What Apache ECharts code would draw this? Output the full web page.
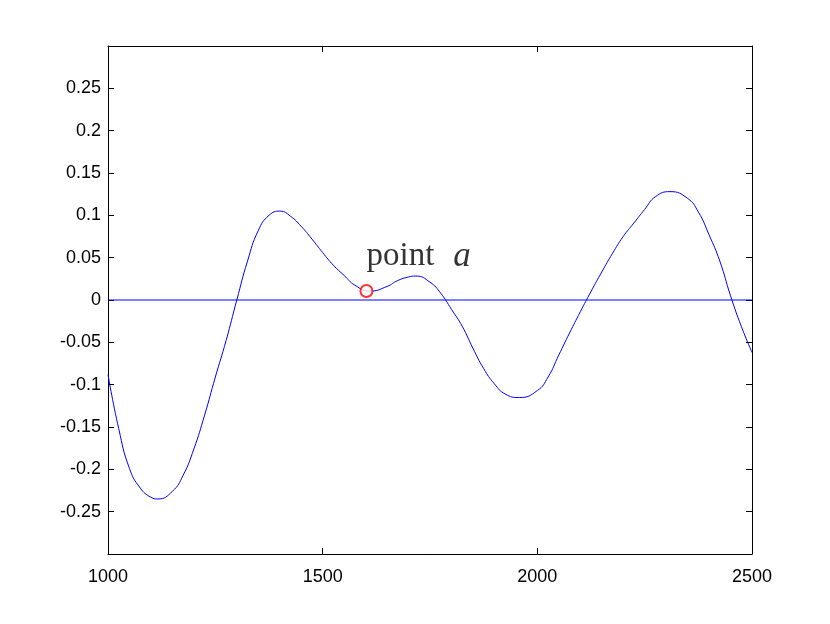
<!DOCTYPE html>
<html>
<head>
<meta charset="utf-8">
<script src="https://cdn.jsdelivr.net/npm/echarts@6/dist/echarts.min.js"></script>
<style>
    html, body { margin: 0; padding: 0; background: #fff; }
    #main { width: 830px; height: 624px; }
</style>
</head>
<body>
<div id="main"></div>
<script>
// 曲线数据 (从图上读出, 约每 25 一点, 极值点单独取)
var xValues = [1000, 1025, 1050, 1075, 1100, 1116, 1150, 1175, 1200, 1225, 1250, 1275, 1300, 1325, 1350, 1375,
    1401, 1425, 1450, 1475, 1500, 1525, 1550, 1575, 1610, 1650, 1675, 1700, 1717, 1750, 1775,
    1800, 1825, 1850, 1875, 1900, 1925, 1958, 2000, 2025, 2050, 2075, 2100, 2125, 2150, 2175,
    2200, 2225, 2250, 2275, 2309, 2350, 2375, 2400, 2425, 2450, 2475, 2500];
var yValues = [-0.088, -0.152, -0.199, -0.222, -0.233, -0.235, -0.226, -0.207, -0.176, -0.136, -0.091, -0.048, 0.000, 0.046, 0.082, 0.100,
    0.105, 0.099, 0.087, 0.072, 0.056, 0.041, 0.029, 0.0175, 0.0105, 0.016, 0.023, 0.0272, 0.0283, 0.021, 0.008,
    -0.011, -0.031, -0.057, -0.081, -0.099, -0.111, -0.1152, -0.107, -0.091, -0.065, -0.039, -0.014, 0.010, 0.033, 0.055,
    0.075, 0.091, 0.107, 0.122, 0.128, 0.120, 0.104, 0.077, 0.046, 0.005, -0.031, -0.062];
// y = 0 参考线
var zeroX = [1000, 2500];
var zeroY = [0, 0];
// point a
var pointA = [1602, 0.0106];
var pointLabel = 'point';
var pointName = 'a';

var xTicks = { min: 1000, max: 2500, interval: 500 };
var yTicks = { min: -0.3, max: 0.3, interval: 0.05 };

var curve = xValues.map(function (x, i) { return [x, yValues[i]]; });
var zero = zeroX.map(function (x, i) { return [x, zeroY[i]]; });

var myChart = echarts.init(document.getElementById('main'));

var tickFont = { fontFamily: 'Liberation Sans', fontSize: 18, color: '#000' };

function yLabel(v) {
    if (Math.abs(v) > 0.29) return '';
    return String(parseFloat(v.toFixed(2)));
}
function xLabel(v) {
    return String(v);
}

var option = {
    backgroundColor: '#fff',
    animation: false,
    grid: { left: 108, top: 46, right: 78, bottom: 70, containLabel: false },
    xAxis: [{
        type: 'value',
        min: xTicks.min, max: xTicks.max, interval: xTicks.interval,
        axisLine: { show: true, onZero: false, lineStyle: { color: '#000', width: 1 } },
        axisTick: { show: true, inside: true, length: 6, lineStyle: { color: '#000' } },
        axisLabel: Object.assign({ margin: 14, showMinLabel: true, showMaxLabel: true, formatter: xLabel }, tickFont),
        splitLine: { show: false }
    }, {
        type: 'value', position: 'top',
        min: xTicks.min, max: xTicks.max, interval: xTicks.interval,
        axisLine: { show: true, onZero: false, lineStyle: { color: '#000', width: 1 } },
        axisTick: { show: true, inside: true, length: 6, lineStyle: { color: '#000' } },
        axisLabel: { show: false },
        splitLine: { show: false }
    }],
    yAxis: [{
        type: 'value',
        min: yTicks.min, max: yTicks.max, interval: yTicks.interval,
        axisLine: { show: true, onZero: false, lineStyle: { color: '#000', width: 1 } },
        axisTick: { show: true, inside: true, length: 6, lineStyle: { color: '#000' } },
        axisLabel: Object.assign({ margin: 7, formatter: yLabel }, tickFont),
        splitLine: { show: false }
    }, {
        type: 'value', position: 'right',
        min: yTicks.min, max: yTicks.max, interval: yTicks.interval,
        axisLine: { show: true, onZero: false, lineStyle: { color: '#000', width: 1 } },
        axisTick: { show: true, inside: true, length: 6, lineStyle: { color: '#000' } },
        axisLabel: { show: false },
        splitLine: { show: false }
    }],
    series: [{
        type: 'line',
        data: zero,
        showSymbol: false,
        lineStyle: { color: '#0000ff', width: 1 },
        z: 2
    }, {
        type: 'line',
        data: curve,
        smooth: 0.5,
        showSymbol: false,
        lineStyle: { color: '#0000ff', width: 1 },
        z: 3
    }, {
        type: 'scatter',
        data: [pointA],
        symbol: 'emptyCircle',
        symbolSize: 12,
        itemStyle: { color: '#ff0000', borderColor: '#ff0000', borderWidth: 0.8 },
        label: {
            show: true,
            position: [7, -10],
            align: 'left',
            verticalAlign: 'bottom',
            color: '#000',
            formatter: '{p|' + pointLabel + '}{a|' + pointName + '}',
            rich: {
                p: { fontFamily: 'Liberation Serif', fontSize: 33, color: '#000' },
                a: { fontFamily: 'Liberation Serif', fontSize: 35, fontStyle: 'italic', color: '#000', padding: [0, 0, 0, 19] }
            }
        },
        z: 4
    }]
};
myChart.setOption(option);
</script>
</body>
</html>
